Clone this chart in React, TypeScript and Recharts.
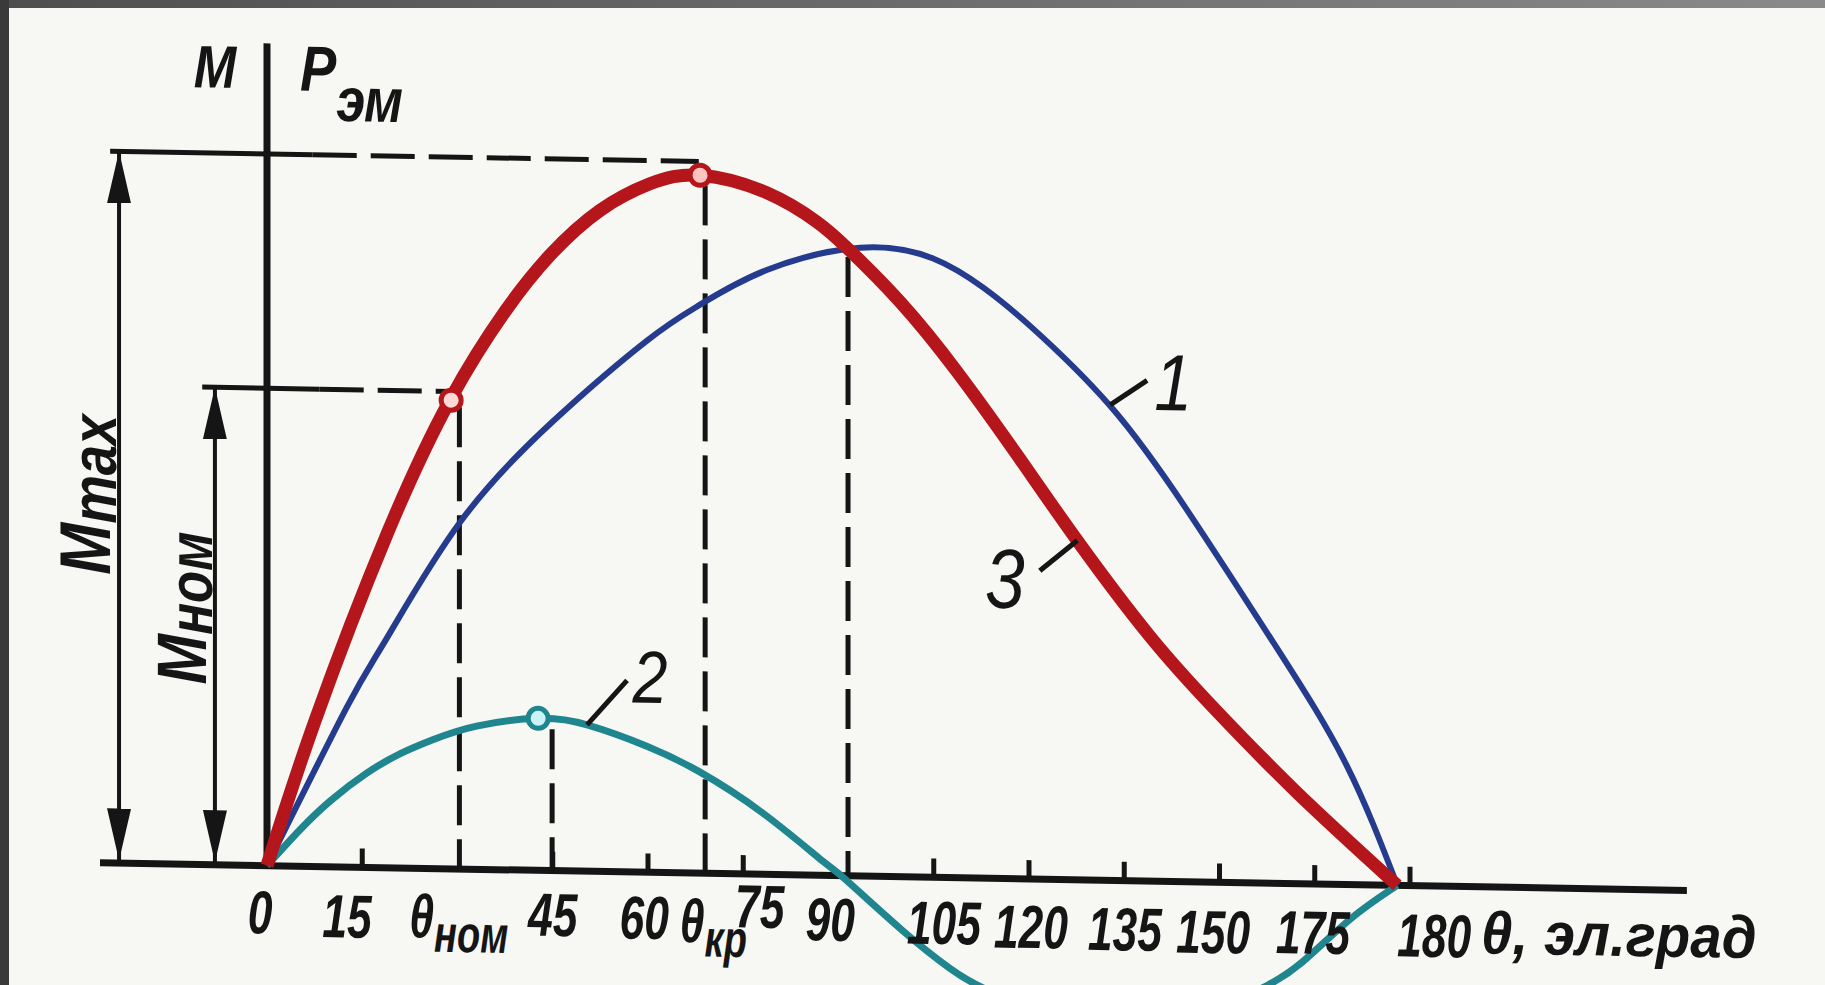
import React from "react";
import { LineChart, Line, XAxis, YAxis, ReferenceLine, ReferenceDot } from "recharts";

// angle θ (el. degrees) and torque in units of curve 1's peak
const blueDeg = [0, 12.6, 18.9, 30.4, 45, 59.8, 68.2, 78.7, 93.4, 104.9, 112.8, 120.2, 132.8, 145, 159, 170, 178];
const blueVal = [0, 0.255, 0.366, 0.552, 0.715, 0.846, 0.905, 0.962, 1.0, 0.985, 0.94, 0.88, 0.755, 0.59, 0.375, 0.19, 0];

const cyanDeg = [0, 5.2, 10, 15.7, 21, 26.1, 33, 42.7, 50.4, 60, 68, 78, 87.6, 91, 100, 107.6, 114, 125, 135, 145, 152, 157.5, 163, 170.6, 178];
const cyanVal = [0, 0.058, 0.105, 0.15, 0.182, 0.205, 0.228, 0.242, 0.233, 0.2, 0.162, 0.098, 0.022, -0.005, -0.085, -0.145, -0.18, -0.215, -0.228, -0.215, -0.19, -0.163, -0.125, -0.055, 0];

const redDeg = [0, 7.6, 18.9, 28.8, 37.5, 44.7, 52.4, 60.3, 68.2, 78.7, 86.6, 91.3, 99.7, 108.7, 118.1, 127.6, 139, 149.3, 162.2, 178];
const redVal = [0, 0.233, 0.531, 0.746, 0.889, 0.981, 1.052, 1.096, 1.111, 1.085, 1.04, 1.0, 0.915, 0.805, 0.675, 0.54, 0.39, 0.275, 0.145, 0];

// small tick marks on the θ axis
const tickDeg = [15, 45, 60, 75, 105, 120, 135, 150, 165, 180];

// tick label texts and where they sit (degrees of anchor)
const tickText = ["0", "15", "θ", "45", "60", "θ", "75", "90", "105", "120", "135", "150", "175", "180", "θ, эл.град"];
const tickSub = ["", "", "ном", "", "", "кр", "", "", "", "", "", "", "", "", ""];
const tickPos = [-1.1, 12.6, 22.4, 45.0, 59.4, 65.0, 77.6, 88.7, 106.6, 120.3, 135.1, 149, 164.7, 183.8, 191.2];
const tickLift = [-0.108, -0.112, -0.11, -0.104, -0.106, -0.11, -0.085, -0.104, -0.106, -0.11, -0.111, -0.113, -0.111, -0.113, -0.106];

// special angles and levels
const thetaNom = 30.3;
const thetaKr = 69;
const thetaCross = 91.5;
const theta2 = 44.9;
const mMax = 1.133;
const mNom = 0.76;

const toRows = (deg: number[], val: number[]) => deg.map((d, i) => ({ deg: d, v: val[i] }));
const blueData = toRows(blueDeg, blueVal);
const cyanData = toRows(cyanDeg, cyanVal);
const redData = toRows(redDeg, redVal);

const INK = "#151515";
const FONT = "'Liberation Sans', Arial, sans-serif";

type Spec = {
  text: string;
  sub?: string;
  deg: number;
  val: number;
  size: number;
  subSize?: number;
  subDy?: number;
  anchor?: "start" | "middle" | "end";
  rot?: number;
  sx?: number;
  weight?: string;
};

function TextMark(props: any) {
  const { viewBox, spec } = props;
  const s: Spec = spec;
  const cx = viewBox.x + (viewBox.width || 0) / 2;
  const cy = viewBox.y + (viewBox.height || 0) / 2;
  return (
    <text
      transform={`translate(${cx},${cy}) rotate(${s.rot || 0}) scale(${s.sx || 0.75},1)`}
      textAnchor={s.anchor || "middle"}
      fontFamily={FONT}
      fontStyle="italic"
      fontWeight={s.weight || "bold"}
      fontSize={s.size}
      fill={INK}
    >
      {s.text}
      {s.sub ? (
        <tspan fontSize={s.subSize || s.size} dy={s.subDy || 0}>
          {s.sub}
        </tspan>
      ) : null}
    </text>
  );
}

const tickSpecs: Spec[] = tickText.map((t, i) => ({
  text: t,
  sub: tickSub[i] || undefined,
  deg: tickPos[i],
  val: tickLift[i],
  size: t.length > 4 ? 60 : 61,
  subSize: 52,
  subDy: 14,
  anchor: tickSub[i] || t.length > 4 ? "start" : "middle",
  sx: t.length > 4 ? 0.94 : 0.73,
}));

const noteSpecs: Spec[] = [
  { text: "M", deg: -8.2, val: 1.237, size: 60, sx: 0.85 },
  { text: "P", sub: "эм", deg: 5.2, val: 1.235, size: 64, subSize: 62, subDy: 30, anchor: "start", sx: 0.85 },
  { text: "M", sub: "max", deg: -24.8, val: 0.586, size: 72, subSize: 64, subDy: 6, rot: -90, sx: 0.85 },
  { text: "M", sub: "ном", deg: -9.6, val: 0.408, size: 70, subSize: 62, subDy: 6, rot: -90, sx: 0.85 },
  { text: "1", deg: 142.7, val: 0.75, size: 80, weight: "normal", sx: 0.85 },
  { text: "2", deg: 60.3, val: 0.27, size: 74, weight: "normal", sx: 0.85 },
  { text: "3", deg: 116.2, val: 0.431, size: 84, weight: "normal", sx: 0.85 },
];

// leader lines from the curve numbers to their curves
const leaders = [
  [132.8, 0.757, 138.6, 0.797],
  [50.4, 0.233, 56.7, 0.305],
  [121.7, 0.491, 127.6, 0.54],
];

const ArrowShape = (p: any) => (
  <line
    x1={p.x1}
    y1={p.y1}
    x2={p.x2}
    y2={p.y2}
    stroke={INK}
    strokeWidth={4}
    markerStart="url(#dimArrow)"
    markerEnd="url(#dimArrow)"
  />
);

export default function App() {
  const dash = "44 14";
  return (
    <div style={{ position: "relative", width: 1825, height: 985, overflow: "hidden", background: "#f7f7f3" }}>
      <style>{"body{margin:0;background:#f7f7f3}"}</style>
      <svg width={0} height={0} style={{ position: "absolute" }}>
        <defs>
          <marker
            id="dimArrow"
            viewBox="0 0 52 24"
            refX={52}
            refY={12}
            markerWidth={52}
            markerHeight={24}
            markerUnits="userSpaceOnUse"
            orient="auto-start-reverse"
          >
            <path d="M0,0 L52,12 L0,24 z" fill={INK} />
          </marker>
        </defs>
      </svg>
      <div
        style={{
          position: "absolute",
          left: 0,
          top: 0,
          transform: "skewY(1deg)",
          transformOrigin: "267px 865px",
        }}
      >
        <LineChart width={1825} height={985} margin={{ top: 5, right: 34, bottom: 0, left: 13 }}>
          <XAxis type="number" dataKey="deg" domain={[-40, 240]} allowDataOverflow hide />
          <YAxis type="number" domain={[-0.19, 1.37]} allowDataOverflow hide />

          {/* axes */}
          <ReferenceLine segment={[{ x: -26.3, y: 0 }, { x: 223.6, y: 0 }]} stroke={INK} strokeWidth={7} />
          <ReferenceLine segment={[{ x: 0, y: -0.005 }, { x: 0, y: 1.309 }]} stroke={INK} strokeWidth={7} />
          {tickDeg.map((d) => (
            <ReferenceLine key={"t" + d} segment={[{ x: d, y: 0 }, { x: d, y: 0.03 }]} stroke={INK} strokeWidth={5} />
          ))}

          {/* dimension lines */}
          <ReferenceLine segment={[{ x: -24.7, y: mMax }, { x: 7.2, y: mMax }]} stroke={INK} strokeWidth={5} />
          <ReferenceLine segment={[{ x: 7.2, y: mMax }, { x: 68, y: mMax }]} stroke={INK} strokeWidth={5} strokeDasharray={dash} />
          <ReferenceLine segment={[{ x: -10.2, y: mNom }, { x: 8.3, y: mNom }]} stroke={INK} strokeWidth={5} />
          <ReferenceLine segment={[{ x: 8.3, y: mNom }, { x: 29, y: mNom }]} stroke={INK} strokeWidth={5} strokeDasharray={dash} />
          <ReferenceLine segment={[{ x: -23.3, y: 0.004 }, { x: -23.3, y: mMax }]} shape={ArrowShape} />
          <ReferenceLine segment={[{ x: -8.2, y: 0.004 }, { x: -8.2, y: mNom }]} shape={ArrowShape} />

          {/* vertical dashed lines */}
          <ReferenceLine segment={[{ x: thetaNom, y: 0.735 }, { x: thetaNom, y: 0 }]} stroke={INK} strokeWidth={5} strokeDasharray="40 14" />
          <ReferenceLine segment={[{ x: theta2, y: 0.225 }, { x: theta2, y: 0 }]} stroke={INK} strokeWidth={5} strokeDasharray="40 14" />
          <ReferenceLine segment={[{ x: thetaKr, y: 1.095 }, { x: thetaKr, y: 0 }]} stroke={INK} strokeWidth={5} strokeDasharray="40 14" />
          <ReferenceLine segment={[{ x: thetaCross, y: 0.985 }, { x: thetaCross, y: 0 }]} stroke={INK} strokeWidth={5} strokeDasharray="40 14" />

          <Line data={blueData} dataKey="v" type="natural" stroke="#253b8e" strokeWidth={6} dot={false} activeDot={false} isAnimationActive={false} />
          <Line data={cyanData} dataKey="v" type="natural" stroke="#1f868f" strokeWidth={7} dot={false} activeDot={false} isAnimationActive={false} />
          <Line data={redData} dataKey="v" type="natural" stroke="#b5161c" strokeWidth={13} dot={false} activeDot={false} isAnimationActive={false} />

          {leaders.map((l, i) => (
            <ReferenceLine key={"l" + i} segment={[{ x: l[0], y: l[1] }, { x: l[2], y: l[3] }]} stroke={INK} strokeWidth={5} />
          ))}

          <ReferenceDot x={29} y={0.746} r={10} fill="#ffd9d6" stroke="#b5161c" strokeWidth={5} />
          <ReferenceDot x={68.2} y={1.111} r={10} fill="#ffc4c0" stroke="#b5161c" strokeWidth={5} />
          <ReferenceDot x={42.7} y={0.242} r={10} fill="#c9f3f6" stroke="#1f868f" strokeWidth={5} />

          {[...tickSpecs, ...noteSpecs].map((s, i) => (
            <ReferenceDot
              key={"txt" + i}
              x={s.deg}
              y={s.val}
              r={0}
              fill="none"
              stroke="none"
              label={(p: any) => <TextMark {...p} spec={s} />}
            />
          ))}
        </LineChart>
      </div>
      <div style={{ position: "absolute", left: 0, top: 0, width: 1825, height: 8, background: "linear-gradient(to right, #4e4e4e, #727272 60%, #8a8a8a)" }} />
      <div style={{ position: "absolute", left: 0, top: 0, width: 9, height: 985, background: "#3a3a3a" }} />
    </div>
  );
}
